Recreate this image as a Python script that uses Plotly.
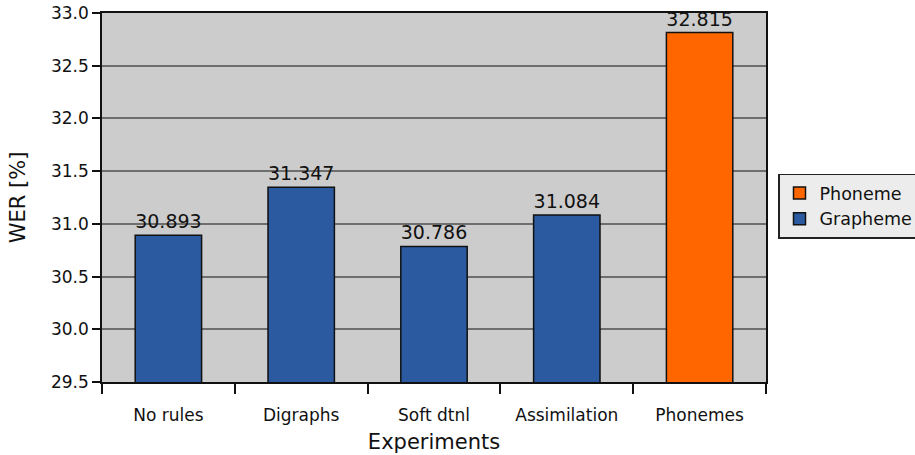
import plotly.graph_objects as go

categories = ["No rules", "Digraphs", "Soft dtnl", "Assimilation", "Phonemes"]
grapheme_cats = ["No rules", "Digraphs", "Soft dtnl", "Assimilation"]
grapheme_vals = [30.893, 31.347, 30.786, 31.084]
phoneme_cats = ["Phonemes"]
phoneme_vals = [32.815]

font = "DejaVu Sans, Verdana, sans-serif"

fig = go.Figure()
fig.add_trace(go.Bar(
    x=phoneme_cats, y=phoneme_vals, name="Phoneme",
    marker=dict(color="#ff6600", line=dict(color="#111111", width=1.5)),
    width=0.5, text=[f"{v:.3f}" for v in phoneme_vals], textposition="outside",
    textfont=dict(size=19, color="#111111"), cliponaxis=False,
))
fig.add_trace(go.Bar(
    x=grapheme_cats, y=grapheme_vals, name="Grapheme",
    marker=dict(color="#2b5aa0", line=dict(color="#111111", width=1.5)),
    width=0.5, text=[f"{v:.3f}" for v in grapheme_vals], textposition="outside",
    textfont=dict(size=19, color="#111111"), cliponaxis=False,
))

fig.update_layout(
    width=915, height=455,
    margin=dict(l=102, r=149, t=13, b=73, autoexpand=False),
    paper_bgcolor="white", plot_bgcolor="#cccccc",
    barmode="overlay",
    uniformtext=dict(minsize=19, mode="show"),
    font=dict(family=font, size=17, color="#111111"),
    showlegend=True,
    legend=dict(
        xref="container", yref="container",
        x=778 / 915, y=1 - 206 / 455, xanchor="left", yanchor="middle",
        bgcolor="#ececec", bordercolor="#222222", borderwidth=1.5,
        font=dict(size=17.5), traceorder="normal", itemwidth=30,
    ),
    xaxis=dict(
        type="category", categoryorder="array", categoryarray=categories,
        tickson="boundaries", ticks="outside", ticklen=10, tickwidth=1.5, tickcolor="#111111",
        showline=True, linecolor="#111111", linewidth=1.5, mirror=True,
        showgrid=False, tickfont=dict(size=17), automargin=False,
        ticklabelstandoff=17,
        title=dict(text="Experiments", font=dict(size=21), standoff=10),
    ),
    yaxis=dict(
        range=[29.5, 33.0], dtick=0.5, tickformat=".1f",
        ticks="outside", ticklen=8, tickwidth=1.5, tickcolor="#111111",
        showline=True, linecolor="#111111", linewidth=1.5, mirror=True,
        showgrid=True, gridcolor="#6e6e6e", gridwidth=1.5,
        zeroline=False, tickfont=dict(size=17), automargin=False,
        title=dict(text="WER [%]", font=dict(size=21), standoff=20),
    ),
)

fig.write_html("out.html", config={"displayModeBar": False},
               post_script="document.body.style.margin='0px';")
